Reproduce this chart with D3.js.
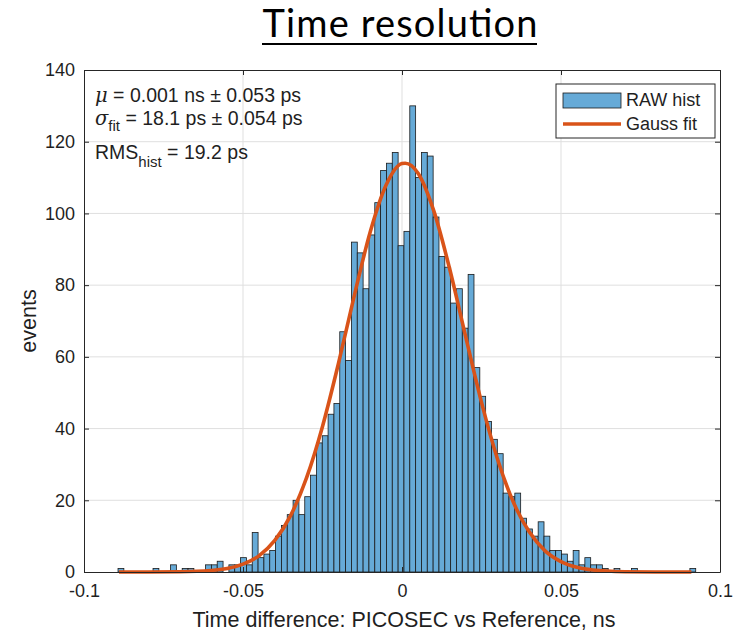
<!DOCTYPE html>
<html>
<head>
<meta charset="utf-8">
<script src="https://cdn.jsdelivr.net/npm/d3@7"></script>
<style>
  body { margin: 0; background: #fff; }
  svg { display: block; }
  text { font-family: "Liberation Sans", Arial, sans-serif; fill: #1f1f1f; }
</style>
</head>
<body>
<div id="chart"></div>
<script>
// histogram of time differences
var binStart = -0.0893,
    binWidth = 0.001835;
var counts = [1,0,0,0,0,0,1,0,0,2,
              0,1,1,0,0,2,2,3,0,2,
              2,4,2,11,4,5,6,10,13,16,
              20,16,21,27,36,38,44,47,67,59,
              92,89,79,94,103,112,114,117,91,95,
              130,110,117,116,99,88,85,75,79,68,
              83,57,49,42,37,33,22,21,22,15,
              12,10,14,10,6,6,5,3,6,2,
              4,2,2,1,0,1,0,0,1,0,
              0,0,0,0,0,0,0,0,1];

// gauss fit curve
var fitX = [-0.089,-0.08,-0.07,-0.06,-0.055,-0.05,-0.045,-0.04,-0.035,-0.03,-0.025,-0.02,-0.015,-0.01,-0.005,0,0.001,
            0.005,0.01,0.015,0.02,0.025,0.03,0.035,0.04,0.045,0.05,0.055,0.06,0.07,0.08,0.091];
var fitY = [0,0,0.05,0.4,0.95,2.2,4.5,8.8,15.8,26.3,40.6,58.1,77.1,94.8,107.9,113.9,114,
            111.3,100.7,84.5,65.7,47.3,31.6,19.5,11.2,5.9,2.9,1.3,0.56,0.08,0,0];

var xTicks = [-0.1, -0.05, 0, 0.05, 0.1],
    xTickLabels = ["-0.1", "-0.05", "0", "0.05", "0.1"];
var yTicks = [0, 20, 40, 60, 80, 100, 120, 140];

var W = 733, H = 636;
var margin = {top: 70, right: 13, bottom: 64, left: 84},
    width = W - margin.left - margin.right,
    height = H - margin.top - margin.bottom;

var blue = "#66aad7", orange = "#d95319", axisCol = "#262626";

var root = d3.select("#chart").append("svg")
    .attr("width", W)
    .attr("height", H);

// title
root.append("text")
    .attr("x", 400)
    .attr("y", 37)
    .attr("text-anchor", "middle")
    .style("font-family", "Lato, 'Open Sans', sans-serif")
    .style("font-size", "38px")
    .style("fill", "#000")
    .attr("textLength", 275)
    .text("Time resolution");
root.append("line")
    .attr("x1", 262).attr("x2", 537)
    .attr("y1", 44).attr("y2", 44)
    .attr("stroke", "#000").attr("stroke-width", 2);

var svg = root.append("g")
    .attr("transform", "translate(" + margin.left + "," + margin.top + ")");

var x = d3.scaleLinear().domain([-0.1, 0.1]).range([0, width]);
var y = d3.scaleLinear().domain([0, 140]).range([height, 0]);

// grid
svg.append("g").selectAll("line")
  .data(xTicks.slice(1, -1))
  .enter().append("line")
    .attr("x1", function(d) { return x(d); })
    .attr("x2", function(d) { return x(d); })
    .attr("y1", 0).attr("y2", height)
    .attr("stroke", "#dfdfdf").attr("stroke-width", 1);
svg.append("g").selectAll("line")
  .data(yTicks.slice(1, -1))
  .enter().append("line")
    .attr("y1", function(d) { return y(d); })
    .attr("y2", function(d) { return y(d); })
    .attr("x1", 0).attr("x2", width)
    .attr("stroke", "#dfdfdf").attr("stroke-width", 1);

// bars
svg.append("g").selectAll("rect")
  .data(counts.map(function(c, i) { return {x0: binStart + i * binWidth, x1: binStart + (i + 1) * binWidth, n: c}; })
    .filter(function(d) { return d.n > 0; }))
  .enter().append("rect")
    .attr("x", function(d) { return x(d.x0); })
    .attr("y", function(d) { return y(d.n); })
    .attr("width", function(d) { return x(d.x1) - x(d.x0); })
    .attr("height", function(d) { return y(0) - y(d.n); })
    .attr("fill", blue)
    .attr("stroke", "#1a1a1a")
    .attr("stroke-width", 0.8);

// fit line
var line = d3.line()
    .x(function(d) { return x(d[0]); })
    .y(function(d) { return y(d[1]); })
    .curve(d3.curveMonotoneX);
svg.append("path")
    .datum(fitX.map(function(v, i) { return [v, fitY[i]]; }))
    .attr("d", line)
    .attr("fill", "none")
    .attr("stroke", orange)
    .attr("stroke-width", 3.6);

// axes: box with inward ticks on all sides
svg.append("g")
    .attr("transform", "translate(0," + height + ")")
    .call(d3.axisBottom(x).tickValues(xTicks).tickSizeInner(-5).tickSizeOuter(0)
      .tickPadding(12).tickFormat(function(d, i) { return xTickLabels[i]; }));
svg.append("g")
    .call(d3.axisTop(x).tickValues(xTicks).tickSizeInner(-5).tickSizeOuter(0).tickFormat(""));
svg.append("g")
    .call(d3.axisLeft(y).tickValues(yTicks).tickSizeInner(-5).tickSizeOuter(0).tickPadding(9));
svg.append("g")
    .attr("transform", "translate(" + width + ",0)")
    .call(d3.axisRight(y).tickValues(yTicks).tickSizeInner(-5).tickSizeOuter(0).tickFormat(""));
svg.selectAll(".domain").attr("stroke", axisCol).attr("stroke-width", 1);
svg.selectAll(".tick line").attr("stroke", axisCol);
svg.selectAll(".tick text")
    .style("font-family", "'Liberation Sans', Arial, sans-serif")
    .style("font-size", "18px")
    .attr("fill", "#1f1f1f");

// axis labels
svg.append("text")
    .attr("x", width / 2 + 2)
    .attr("y", height + 55)
    .attr("text-anchor", "middle")
    .style("font-size", "21.5px")
    .text("Time difference: PICOSEC vs Reference, ns");
svg.append("text")
    .attr("transform", "translate(" + (-48) + "," + (height / 2) + ") rotate(-90)")
    .attr("text-anchor", "middle")
    .style("font-size", "21.5px")
    .text("events");

// fit annotations
var note = svg.append("g").style("font-size", "19.5px");
var t1 = note.append("text").attr("x", 11).attr("y", 32);
t1.append("tspan").style("font-style", "italic").style("font-family", "'DejaVu Serif', serif").text("\u03bc");
t1.append("tspan").text(" = 0.001 ns \u00b1 0.053 ps");
var t2 = note.append("text").attr("x", 11).attr("y", 55);
t2.append("tspan").style("font-style", "italic").style("font-family", "'DejaVu Serif', serif").text("\u03c3");
t2.append("tspan").attr("dy", 6).style("font-size", "15px").text("fit");
t2.append("tspan").attr("dy", -6).text(" = 18.1 ps \u00b1 0.054 ps");
var t3 = note.append("text").attr("x", 11).attr("y", 89);
t3.append("tspan").text("RMS");
t3.append("tspan").attr("dy", 8).style("font-size", "15px").text("hist");
t3.append("tspan").attr("dy", -8).text(" = 19.2 ps");

// legend
var leg = root.append("g");
leg.append("rect")
    .attr("x", 556).attr("y", 84)
    .attr("width", 159).attr("height", 54)
    .attr("fill", "#fff").attr("stroke", axisCol).attr("stroke-width", 1);
leg.append("rect")
    .attr("x", 563).attr("y", 93)
    .attr("width", 58).attr("height", 15)
    .attr("fill", blue).attr("stroke", "#1a1a1a").attr("stroke-width", 0.8);
leg.append("line")
    .attr("x1", 563).attr("x2", 621)
    .attr("y1", 124).attr("y2", 124)
    .attr("stroke", orange).attr("stroke-width", 3.6);
leg.append("text").attr("x", 626).attr("y", 106).style("font-size", "18px").text("RAW hist");
leg.append("text").attr("x", 626).attr("y", 130).style("font-size", "18px").text("Gauss fit");
</script>
</body>
</html>
